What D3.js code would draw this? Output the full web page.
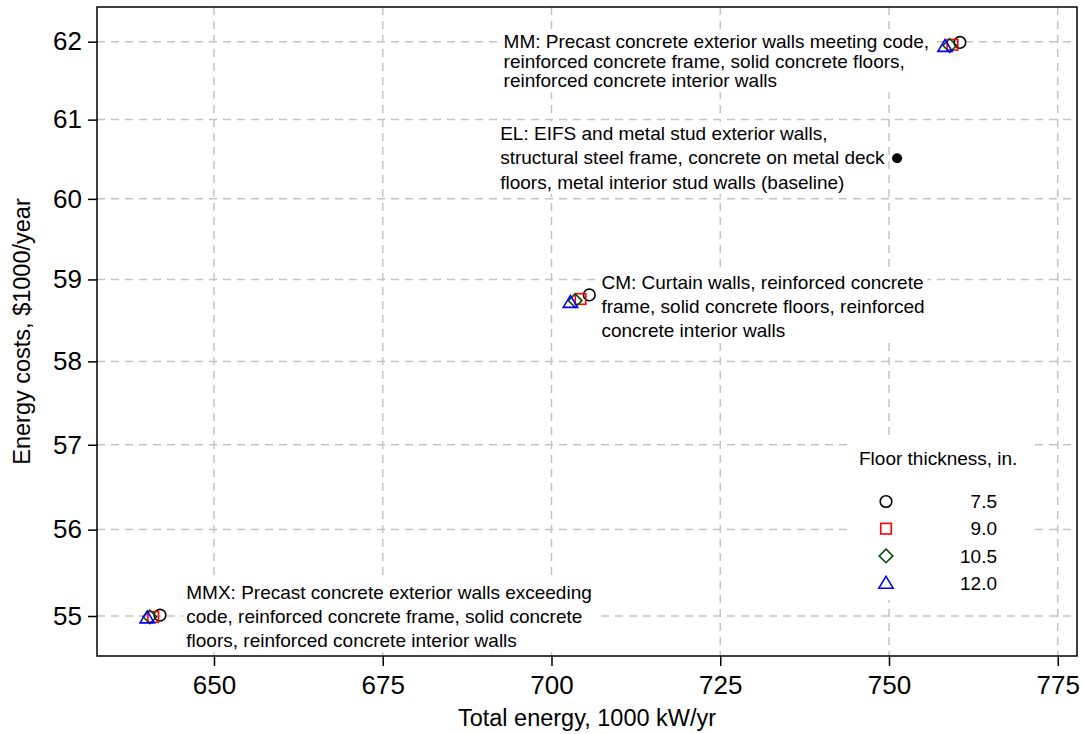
<!DOCTYPE html>
<html>
<head>
<meta charset="utf-8">
<script src="https://cdn.jsdelivr.net/npm/d3@7"></script>
<style>
  html, body { margin: 0; padding: 0; background: #fff; }
  svg { display: block; font-family: "Liberation Sans", Arial, sans-serif; }
</style>
</head>
<body>
<svg id="chart" width="1084" height="734"></svg>
<script>
// Floor thickness levels (legend order)
const thicknessLabels = ["7.5", "9.0", "10.5", "12.0"];
const markerShapes = ["circle", "square", "diamond", "triangle"];
const markerColors = ["#000000", "#ff0000", "#0b4a0b", "#0000ff"];

// Design alternatives, one value per floor thickness
const designs = ["MM", "CM", "MMX"];
const totalEnergy = {
  MM:  [760.5, 759.4, 759.0, 758.3],
  CM:  [705.6, 704.3, 703.5, 702.8],
  MMX: [642.0, 641.0, 640.5, 640.1]
};
const energyCost = {
  MM:  [61.99, 61.96, 61.95, 61.94],
  CM:  [58.81, 58.76, 58.74, 58.72],
  MMX: [55.01, 54.99, 54.99, 54.98]
};

// Baseline design
const baselineEnergy = 751.2;
const baselineCost = 60.51;

// Annotations (anchor = left edge, first line)
const notes = [
  { key: "MM", x: 692.9, y: 62.0, lh: 19.5, lines: [
    "MM: Precast concrete exterior walls meeting code,",
    "reinforced concrete frame, solid concrete floors,",
    "reinforced concrete interior walls"] },
  { key: "EL", x: 692.4, y: 60.83, lh: 24.5, lines: [
    "EL: EIFS and metal stud exterior walls,",
    "structural steel frame, concrete on metal deck",
    "floors, metal interior stud walls (baseline)"] },
  { key: "CM", x: 707.4, y: 58.96, lh: 24, lines: [
    "CM: Curtain walls, reinforced concrete",
    "frame, solid concrete floors, reinforced",
    "concrete interior walls"] },
  { key: "MMX", x: 645.9, y: 55.27, lh: 24, lines: [
    "MMX: Precast concrete exterior walls exceeding",
    "code, reinforced concrete frame, solid concrete",
    "floors, reinforced concrete interior walls"] }
];

const xTicks = [650, 675, 700, 725, 750, 775];
const yTicks = [55, 56, 57, 58, 59, 60, 61, 62];
const xTitle = "Total energy, 1000 kW/yr";
const yTitle = "Energy costs, $1000/year";
const legendTitle = "Floor thickness, in.";

const svg = d3.select("#chart");
const plot = { left: 97, top: 7, right: 1077, bottom: 656 };

const x = d3.scaleLinear().domain([632.67, 777.85]).range([plot.left, plot.right]);
const y = d3.scaleLog().domain([54.543, 62.45]).range([plot.bottom, plot.top]);

const noteSize = 19;

// Dashed grid
const grid = svg.append("g");
grid.selectAll("line.vx").data(xTicks).join("line")
  .attr("x1", d => x(d)).attr("x2", d => x(d))
  .attr("y1", plot.top).attr("y2", plot.bottom)
  .attr("stroke", "#c4c4c4").attr("stroke-width", 1.5).attr("stroke-dasharray", "8,6");
grid.selectAll("line.hy").data(yTicks).join("line")
  .attr("y1", d => y(d)).attr("y2", d => y(d))
  .attr("x1", plot.left).attr("x2", plot.right)
  .attr("stroke", "#c4c4c4").attr("stroke-width", 1.5).attr("stroke-dasharray", "8,6");

// Annotation text with white backing
const noteG = svg.append("g");
notes.forEach(n => {
  const g = noteG.append("g");
  const t = g.append("text")
    .attr("x", x(n.x)).attr("y", y(n.y))
    .attr("font-size", noteSize).attr("fill", "#000");
  n.lines.forEach((s, i) => {
    t.append("tspan").attr("x", x(n.x)).attr("dy", i === 0 ? "0.35em" : n.lh).text(s);
  });
  const bb = t.node().getBBox();
  g.insert("rect", "text")
    .attr("x", bb.x - 3).attr("y", bb.y - 1)
    .attr("width", bb.width + 6).attr("height", bb.height + 2)
    .attr("fill", "#fff");
});

// Marker symbol generator
function marker(sel, shape, color, cx, cy) {
  const s = 5.8;
  if (shape === "circle") {
    sel.append("circle").attr("cx", cx).attr("cy", cy).attr("r", s)
      .attr("fill", "none").attr("stroke", color).attr("stroke-width", 1.6);
  } else if (shape === "square") {
    sel.append("rect").attr("x", cx - s + 0.5).attr("y", cy - s + 0.5)
      .attr("width", 2 * s - 1).attr("height", 2 * s - 1)
      .attr("fill", "none").attr("stroke", color).attr("stroke-width", 1.6);
  } else if (shape === "diamond") {
    const r = s + 1;
    sel.append("path")
      .attr("d", `M${cx},${cy - r}L${cx + r},${cy}L${cx},${cy + r}L${cx - r},${cy}Z`)
      .attr("fill", "none").attr("stroke", color).attr("stroke-width", 1.6);
  } else {
    const r = s + 1;
    sel.append("path")
      .attr("d", `M${cx},${cy - r}L${cx + r * 1.05},${cy + r * 0.75}L${cx - r * 1.05},${cy + r * 0.75}Z`)
      .attr("fill", "none").attr("stroke", color).attr("stroke-width", 1.6);
  }
}

// Points: drawn in thickness order so the thickest sits on top
const pts = svg.append("g");
designs.forEach(dk => {
  thicknessLabels.forEach((lab, i) => {
    marker(pts, markerShapes[i], markerColors[i], x(totalEnergy[dk][i]), y(energyCost[dk][i]));
  });
});
pts.append("circle").attr("cx", x(baselineEnergy)).attr("cy", y(baselineCost))
  .attr("r", 5).attr("fill", "#000");

// Legend
const lg = svg.append("g");
lg.append("rect").attr("x", 850).attr("y", 440).attr("width", 182).attr("height", 160).attr("fill", "#fff");
lg.append("text").attr("x", 859).attr("y", 458).attr("dy", "0.35em")
  .attr("font-size", noteSize).text(legendTitle);
thicknessLabels.forEach((lab, i) => {
  const cy = 501.5 + i * 27.2;
  marker(lg, markerShapes[i], markerColors[i], 886, cy);
  lg.append("text").attr("x", 997).attr("y", cy).attr("dy", "0.35em")
    .attr("text-anchor", "end").attr("font-size", noteSize).text(lab);
});

// Axes
const xAxis = d3.axisBottom(x).tickValues(xTicks).tickSize(10).tickPadding(10).tickFormat(d3.format("d"));
const yAxis = d3.axisLeft(y).tickValues(yTicks).tickSize(9).tickPadding(6).tickFormat(d3.format("d"));
const gx = svg.append("g").attr("transform", `translate(0,${plot.bottom})`).call(xAxis);
const gy = svg.append("g").attr("transform", `translate(${plot.left},0)`).call(yAxis);
[gx, gy].forEach(g => {
  g.select(".domain").remove();
  g.selectAll(".tick line").attr("stroke", "#000").attr("stroke-width", 1.5);
  g.selectAll(".tick text").attr("font-size", 26).attr("fill", "#000")
    .attr("font-family", "\"Liberation Sans\", Arial, sans-serif");
});

// Frame
svg.append("rect").attr("x", plot.left).attr("y", plot.top)
  .attr("width", plot.right - plot.left).attr("height", plot.bottom - plot.top)
  .attr("fill", "none").attr("stroke", "#000").attr("stroke-width", 1.5);

// Axis titles
svg.append("text").attr("x", (plot.left + plot.right) / 2).attr("y", 718).attr("dy", "0.35em")
  .attr("text-anchor", "middle").attr("font-size", 23.5).text(xTitle);
svg.append("text").attr("transform", `translate(22,${(plot.top + plot.bottom) / 2}) rotate(-90)`)
  .attr("dy", "0.35em").attr("text-anchor", "middle").attr("font-size", 23.5).text(yTitle);
</script>
</body>
</html>
